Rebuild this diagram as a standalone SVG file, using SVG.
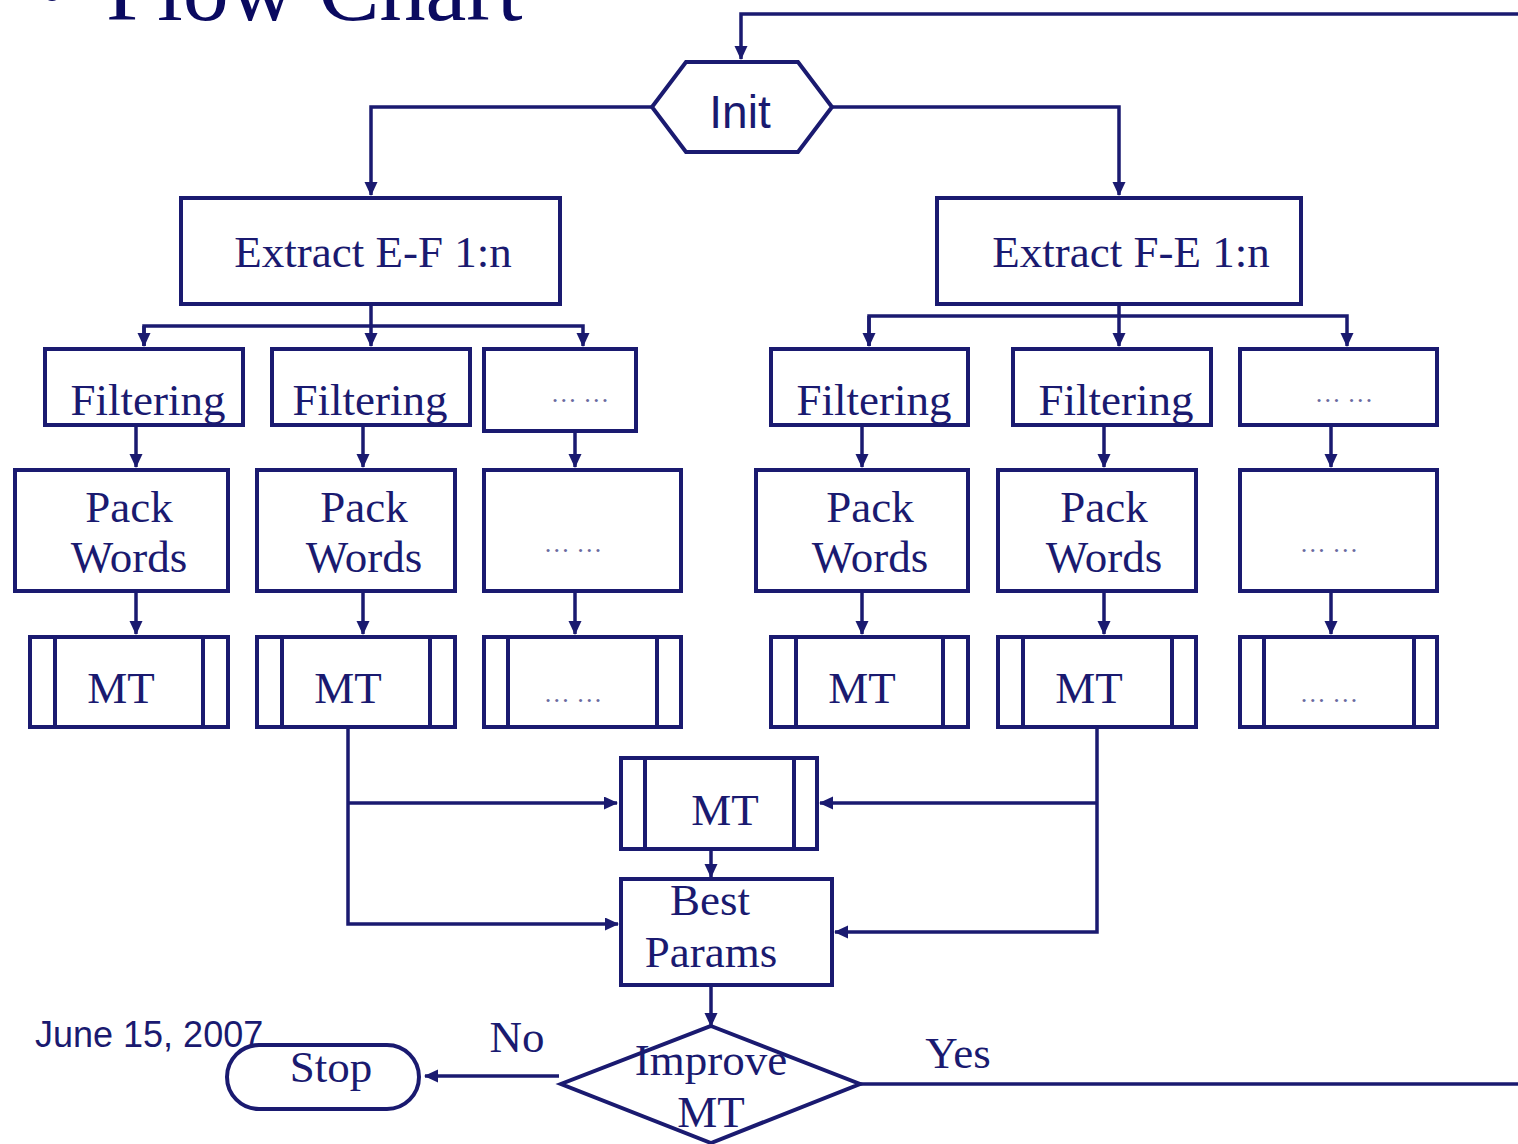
<svg xmlns="http://www.w3.org/2000/svg" width="1518" height="1144" viewBox="0 0 1518 1144">
<style>
.b{fill:#fff;stroke:#1a1a70;stroke-width:4}
.l{fill:none;stroke:#1a1a70;stroke-width:4}
.c{fill:none;stroke:#1a1a70;stroke-width:3.5}
.t{font-family:"Liberation Serif",serif;font-size:45px;fill:#1a1a70;text-anchor:middle}
.d{font-family:"Liberation Serif",serif;font-size:26px;fill:#6a6aa0;text-anchor:middle}
.s{font-family:"Liberation Sans",sans-serif;fill:#1a1a70}
</style>
<defs>
<marker id="a" markerWidth="14" markerHeight="14" refX="13" refY="6.5" orient="auto" markerUnits="userSpaceOnUse">
<path d="M0,0 L14,6.5 L0,13 Z" fill="#1a1a70"/>
</marker>
</defs>
<rect width="1518" height="1144" fill="#fff"/>
<text x="36" y="20" font-family="Liberation Serif,serif" font-size="92" fill="#0a0a60">•</text>
<text x="106" y="20" font-family="Liberation Serif,serif" font-size="92" fill="#0a0a60">Flow Chart</text>
<text class="s" x="35" y="1047" font-size="36">June 15, 2007</text>

<g id="connectors">
<polyline class="c" points="1518,14 741,14 741,59" marker-end="url(#a)"/>
<polyline class="c" points="652,107 371,107 371,195" marker-end="url(#a)"/>
<polyline class="c" points="832,107 1119,107 1119,195" marker-end="url(#a)"/>
<line class="c" x1="371" y1="304" x2="371" y2="346" marker-end="url(#a)"/>
<polyline class="c" points="144,346 144,326 583,326 583,346" marker-end="url(#a)"/>
<line class="c" x1="144" y1="326" x2="144" y2="346" marker-end="url(#a)"/>
<line class="c" x1="1119" y1="304" x2="1119" y2="346" marker-end="url(#a)"/>
<polyline class="c" points="869,346 869,316 1347,316 1347,346" marker-end="url(#a)"/>
<line class="c" x1="869" y1="316" x2="869" y2="346" marker-end="url(#a)"/>
<line class="c" x1="136" y1="425" x2="136" y2="467" marker-end="url(#a)"/>
<line class="c" x1="363" y1="425" x2="363" y2="467" marker-end="url(#a)"/>
<line class="c" x1="575" y1="425" x2="575" y2="467" marker-end="url(#a)"/>
<line class="c" x1="862" y1="425" x2="862" y2="467" marker-end="url(#a)"/>
<line class="c" x1="1104" y1="425" x2="1104" y2="467" marker-end="url(#a)"/>
<line class="c" x1="1331" y1="425" x2="1331" y2="467" marker-end="url(#a)"/>
<line class="c" x1="136" y1="591" x2="136" y2="634" marker-end="url(#a)"/>
<line class="c" x1="363" y1="591" x2="363" y2="634" marker-end="url(#a)"/>
<line class="c" x1="575" y1="591" x2="575" y2="634" marker-end="url(#a)"/>
<line class="c" x1="862" y1="591" x2="862" y2="634" marker-end="url(#a)"/>
<line class="c" x1="1104" y1="591" x2="1104" y2="634" marker-end="url(#a)"/>
<line class="c" x1="1331" y1="591" x2="1331" y2="634" marker-end="url(#a)"/>
<polyline class="c" points="348,727 348,924 618,924" marker-end="url(#a)"/>
<line class="c" x1="348" y1="803" x2="617" y2="803" marker-end="url(#a)"/>
<polyline class="c" points="1097,727 1097,932 835,932" marker-end="url(#a)"/>
<line class="c" x1="1097" y1="803" x2="820" y2="803" marker-end="url(#a)"/>
<line class="c" x1="711" y1="849" x2="711" y2="877" marker-end="url(#a)"/>
<line class="c" x1="711" y1="985" x2="711" y2="1026" marker-end="url(#a)"/>
<line class="c" x1="559" y1="1076" x2="425" y2="1076" marker-end="url(#a)"/>
<line class="c" x1="860" y1="1084" x2="1518" y2="1084"/>
<text class="t" x="517" y="1052">No</text>
<text class="t" x="958" y="1068">Yes</text>
</g>

<g id="init">
<polygon class="b" points="652,107 686,62 798,62 832,107 798,152 686,152"/>
<text class="s" x="740" y="128" font-size="46" text-anchor="middle">Init</text>
</g>
<g id="extract-ef">
<rect class="b" x="181" y="198" width="379" height="106"/>
<text class="t" x="373" y="267">Extract E-F 1:n</text>
</g>
<g id="extract-fe">
<rect class="b" x="937" y="198" width="364" height="106"/>
<text class="t" x="1131" y="267">Extract F-E 1:n</text>
</g>

<g id="filter-l1"><rect class="b" x="45" y="349" width="198" height="76"/><text class="t" x="148" y="415">Filtering</text></g>
<g id="filter-l2"><rect class="b" x="272" y="349" width="198" height="76"/><text class="t" x="370" y="415">Filtering</text></g>
<g id="filter-l3"><rect class="b" x="484" y="349" width="152" height="82"/><text class="d" x="580" y="402">… …</text></g>
<g id="filter-r1"><rect class="b" x="771" y="349" width="197" height="76"/><text class="t" x="874" y="415">Filtering</text></g>
<g id="filter-r2"><rect class="b" x="1013" y="349" width="198" height="76"/><text class="t" x="1116" y="415">Filtering</text></g>
<g id="filter-r3"><rect class="b" x="1240" y="349" width="197" height="76"/><text class="d" x="1344" y="402">… …</text></g>

<g id="pack-l1"><rect class="b" x="15" y="470" width="213" height="121"/><text class="t" x="129" y="522">Pack</text><text class="t" x="129" y="572">Words</text></g>
<g id="pack-l2"><rect class="b" x="257" y="470" width="198" height="121"/><text class="t" x="364" y="522">Pack</text><text class="t" x="364" y="572">Words</text></g>
<g id="pack-l3"><rect class="b" x="484" y="470" width="197" height="121"/><text class="d" x="573" y="552">… …</text></g>
<g id="pack-r1"><rect class="b" x="756" y="470" width="212" height="121"/><text class="t" x="870" y="522">Pack</text><text class="t" x="870" y="572">Words</text></g>
<g id="pack-r2"><rect class="b" x="998" y="470" width="198" height="121"/><text class="t" x="1104" y="522">Pack</text><text class="t" x="1104" y="572">Words</text></g>
<g id="pack-r3"><rect class="b" x="1240" y="470" width="197" height="121"/><text class="d" x="1329" y="552">… …</text></g>

<g id="mt-l1"><rect class="b" x="30" y="637" width="198" height="90"/><line class="l" x1="55" y1="637" x2="55" y2="727"/><line class="l" x1="203" y1="637" x2="203" y2="727"/><text class="t" x="121" y="703">MT</text></g>
<g id="mt-l2"><rect class="b" x="257" y="637" width="198" height="90"/><line class="l" x1="282" y1="637" x2="282" y2="727"/><line class="l" x1="430" y1="637" x2="430" y2="727"/><text class="t" x="348" y="703">MT</text></g>
<g id="mt-l3"><rect class="b" x="484" y="637" width="197" height="90"/><line class="l" x1="508" y1="637" x2="508" y2="727"/><line class="l" x1="657" y1="637" x2="657" y2="727"/><text class="d" x="573" y="702">… …</text></g>
<g id="mt-r1"><rect class="b" x="771" y="637" width="197" height="90"/><line class="l" x1="796" y1="637" x2="796" y2="727"/><line class="l" x1="943" y1="637" x2="943" y2="727"/><text class="t" x="862" y="703">MT</text></g>
<g id="mt-r2"><rect class="b" x="998" y="637" width="198" height="90"/><line class="l" x1="1023" y1="637" x2="1023" y2="727"/><line class="l" x1="1172" y1="637" x2="1172" y2="727"/><text class="t" x="1089" y="703">MT</text></g>
<g id="mt-r3"><rect class="b" x="1240" y="637" width="197" height="90"/><line class="l" x1="1264" y1="637" x2="1264" y2="727"/><line class="l" x1="1414" y1="637" x2="1414" y2="727"/><text class="d" x="1329" y="702">… …</text></g>

<g id="mt-center"><rect class="b" x="621" y="758" width="196" height="91"/><line class="l" x1="645" y1="758" x2="645" y2="849"/><line class="l" x1="794" y1="758" x2="794" y2="849"/><text class="t" x="725" y="825">MT</text></g>
<g id="best-params"><rect class="b" x="621" y="879" width="211" height="106"/><text class="t" x="710" y="915">Best</text><text class="t" x="711" y="967">Params</text></g>
<g id="improve"><polygon class="b" points="711,1026 860,1084 711,1143 561,1084"/><text class="t" x="711" y="1075">Improve</text><text class="t" x="711" y="1127">MT</text></g>
<g id="stop"><rect class="b" x="227" y="1045" width="192" height="64" rx="32"/><text class="t" x="331" y="1082">Stop</text></g>
</svg>
